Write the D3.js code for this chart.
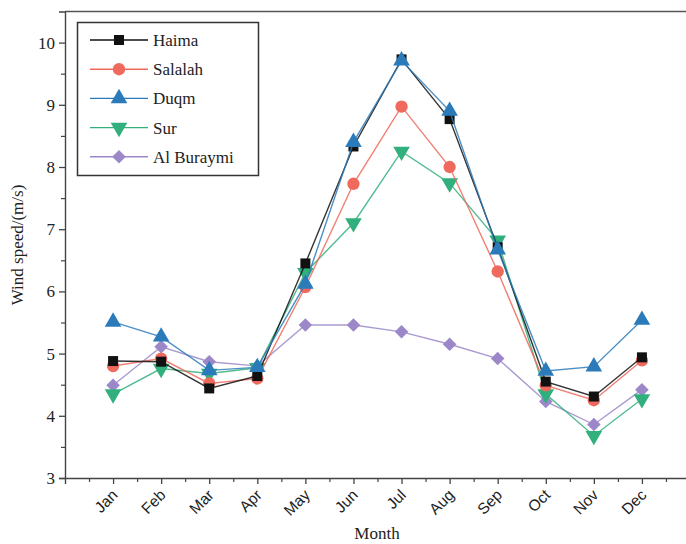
<!DOCTYPE html>
<html>
<head>
<meta charset="utf-8">
<script src="https://cdn.jsdelivr.net/npm/d3@7/dist/d3.min.js"></script>
<style>
	body { margin: 0; background: #fff; }
	svg { display: block; }
</style>
</head>
<body>
<div class="content"></div>
<script>
var months = ["Jan", "Feb", "Mar", "Apr", "May", "Jun", "Jul", "Aug", "Sep", "Oct", "Nov", "Dec"];
var stations = ["Haima", "Salalah", "Duqm", "Sur", "Al Buraymi"];
var haima = [4.88, 4.87, 4.44, 4.64, 6.45, 8.33, 9.73, 8.77, 6.71, 4.55, 4.31, 4.94];
var salalah = [4.80, 4.92, 4.52, 4.60, 6.07, 7.73, 8.97, 8.00, 6.32, 4.49, 4.25, 4.89];
var duqm = [5.51, 5.27, 4.73, 4.78, 6.12, 8.40, 9.71, 8.90, 6.67, 4.72, 4.79, 5.54];
var sur = [4.35, 4.76, 4.68, 4.77, 6.30, 7.10, 8.25, 7.74, 6.82, 4.35, 3.68, 4.27];
var buraymi = [4.49, 5.11, 4.87, 4.80, 5.46, 5.46, 5.35, 5.15, 4.92, 4.23, 3.86, 4.42];
var yTicks = [3, 4, 5, 6, 7, 8, 9, 10];

var colors = ["#111111", "#ef6a5c", "#2b7bbb", "#31b07e", "#9c88c8"];
var symbols = ["square", "circle", "up", "down", "diamond"];
var seriesValues = [haima, salalah, duqm, sur, buraymi];

var width = 686, height = 544;
var svg = d3.select(".content")
	.append("svg")
	.attr("width", width)
	.attr("height", height);

// month index 0..13, plot runs off the right edge like the original
var x = d3.scaleLinear().domain([0, 13]).range([65, 690]);
var y = d3.scaleLinear().domain([3, 10.5]).range([478, 11.5]);

// top frame line
svg.append("line")
	.attr("x1", x(0)).attr("x2", width)
	.attr("y1", y(10.5)).attr("y2", y(10.5))
	.attr("stroke", "#555").attr("stroke-width", 1.6);

// y axis
var yAxis = svg.append("g")
	.attr("transform", "translate(" + x(0) + ",0)")
	.call(d3.axisLeft(y).tickValues(yTicks).tickSize(6).tickFormat(d3.format("d")));
yAxis.select(".domain").attr("stroke", "#444").attr("stroke-width", 1.4);
yAxis.selectAll(".tick line").attr("stroke", "#444").attr("stroke-width", 1.3);
yAxis.selectAll(".tick text")
	.attr("x", -10)
	.style("font-family", "'Liberation Serif', 'Times New Roman', serif")
	.style("font-size", "17px")
	.attr("fill", "#222");
svg.append("g")
	.attr("transform", "translate(" + x(0) + ",0)")
	.call(d3.axisLeft(y).tickValues(d3.range(3.5, 10.5, 1)).tickSize(4).tickFormat(""))
	.call(function(g) { g.select(".domain").remove(); })
	.selectAll("line").attr("stroke", "#444").attr("stroke-width", 1.2);

// x axis
var xAxis = svg.append("g")
	.attr("transform", "translate(0," + y(3) + ")")
	.call(d3.axisBottom(x).tickValues(d3.range(1, 13)).tickSize(6)
		.tickFormat(function(d) { return months[d - 1]; }));
xAxis.select(".domain").attr("stroke", "#444").attr("stroke-width", 1.4);
xAxis.selectAll(".tick line").attr("stroke", "#444").attr("stroke-width", 1.3);
xAxis.selectAll(".tick text")
	.attr("y", 0).attr("dy", 0)
	.attr("transform", "translate(5,18) rotate(-45)")
	.style("text-anchor", "end")
	.style("font-family", "'Liberation Sans', Arial, sans-serif")
	.style("font-size", "15.5px")
	.attr("fill", "#222");
svg.append("g")
	.attr("transform", "translate(0," + y(3) + ")")
	.call(d3.axisBottom(x).tickValues(d3.range(0.5, 13, 1)).tickSize(4).tickFormat(""))
	.call(function(g) { g.select(".domain").remove(); })
	.selectAll("line").attr("stroke", "#444").attr("stroke-width", 1.2);

// axis titles
svg.append("text")
	.text("Month")
	.attr("x", 377).attr("y", 539)
	.attr("text-anchor", "middle")
	.style("font-family", "'Liberation Serif', 'Times New Roman', serif")
	.style("font-size", "17px")
	.attr("fill", "#222");
svg.append("text")
	.text("Wind speed/(m/s)")
	.attr("transform", "translate(23,245) rotate(-90)")
	.attr("text-anchor", "middle")
	.style("font-family", "'Liberation Serif', 'Times New Roman', serif")
	.style("font-size", "17px")
	.attr("fill", "#222");

function markerPath(i) {
	switch (symbols[i]) {
		case "square": return d3.symbol().type(d3.symbolSquare).size(100)();
		case "circle": return d3.symbol().type(d3.symbolCircle).size(120)();
		case "diamond": return d3.symbol().type(d3.symbolSquare).size(92)();
		default: return d3.symbol().type(d3.symbolTriangle).size(120)();
	}
}
function markerRotate(i) {
	if (symbols[i] == "down") return " rotate(180)";
	if (symbols[i] == "diamond") return " rotate(45)";
	return "";
}

var line = d3.line()
	.x(function(d, j) { return x(j + 1); })
	.y(function(d) { return y(d); });

// draw series, last legend entry at the bottom of the stack
var order = [4, 3, 1, 0, 2];
order.forEach(function(i) {
	var g = svg.append("g");
	g.append("path")
		.datum(seriesValues[i])
		.attr("d", line)
		.attr("fill", "none")
		.attr("stroke", colors[i])
		.attr("stroke-opacity", 0.85)
		.attr("stroke-width", 1.4);
	g.selectAll("path.mark")
		.data(seriesValues[i])
		.enter()
		.append("path")
		.attr("class", "mark")
		.attr("d", markerPath(i))
		.attr("transform", function(d, j) {
			return "translate(" + x(j + 1) + "," + y(d) + ")" + markerRotate(i);
		})
		.attr("fill", colors[i]);
});

// legend
var legend = svg.append("g");
legend.append("rect")
	.attr("x", 77.5).attr("y", 22.5)
	.attr("width", 181).attr("height", 153)
	.attr("fill", "#fff")
	.attr("stroke", "#333").attr("stroke-width", 1.5);
stations.forEach(function(name, i) {
	var ly = 40 + i * 29.2;
	legend.append("line")
		.attr("x1", 90).attr("x2", 148)
		.attr("y1", ly).attr("y2", ly)
		.attr("stroke", colors[i]).attr("stroke-width", 1.4);
	legend.append("path")
		.attr("d", markerPath(i))
		.attr("transform", "translate(119," + ly + ")" + markerRotate(i))
		.attr("fill", colors[i]);
	legend.append("text")
		.text(name)
		.attr("x", 153).attr("y", ly + 6)
		.style("font-family", "'Liberation Serif', 'Times New Roman', serif")
		.style("font-size", "17px")
		.attr("fill", "#222");
});
</script>
</body>
</html>
